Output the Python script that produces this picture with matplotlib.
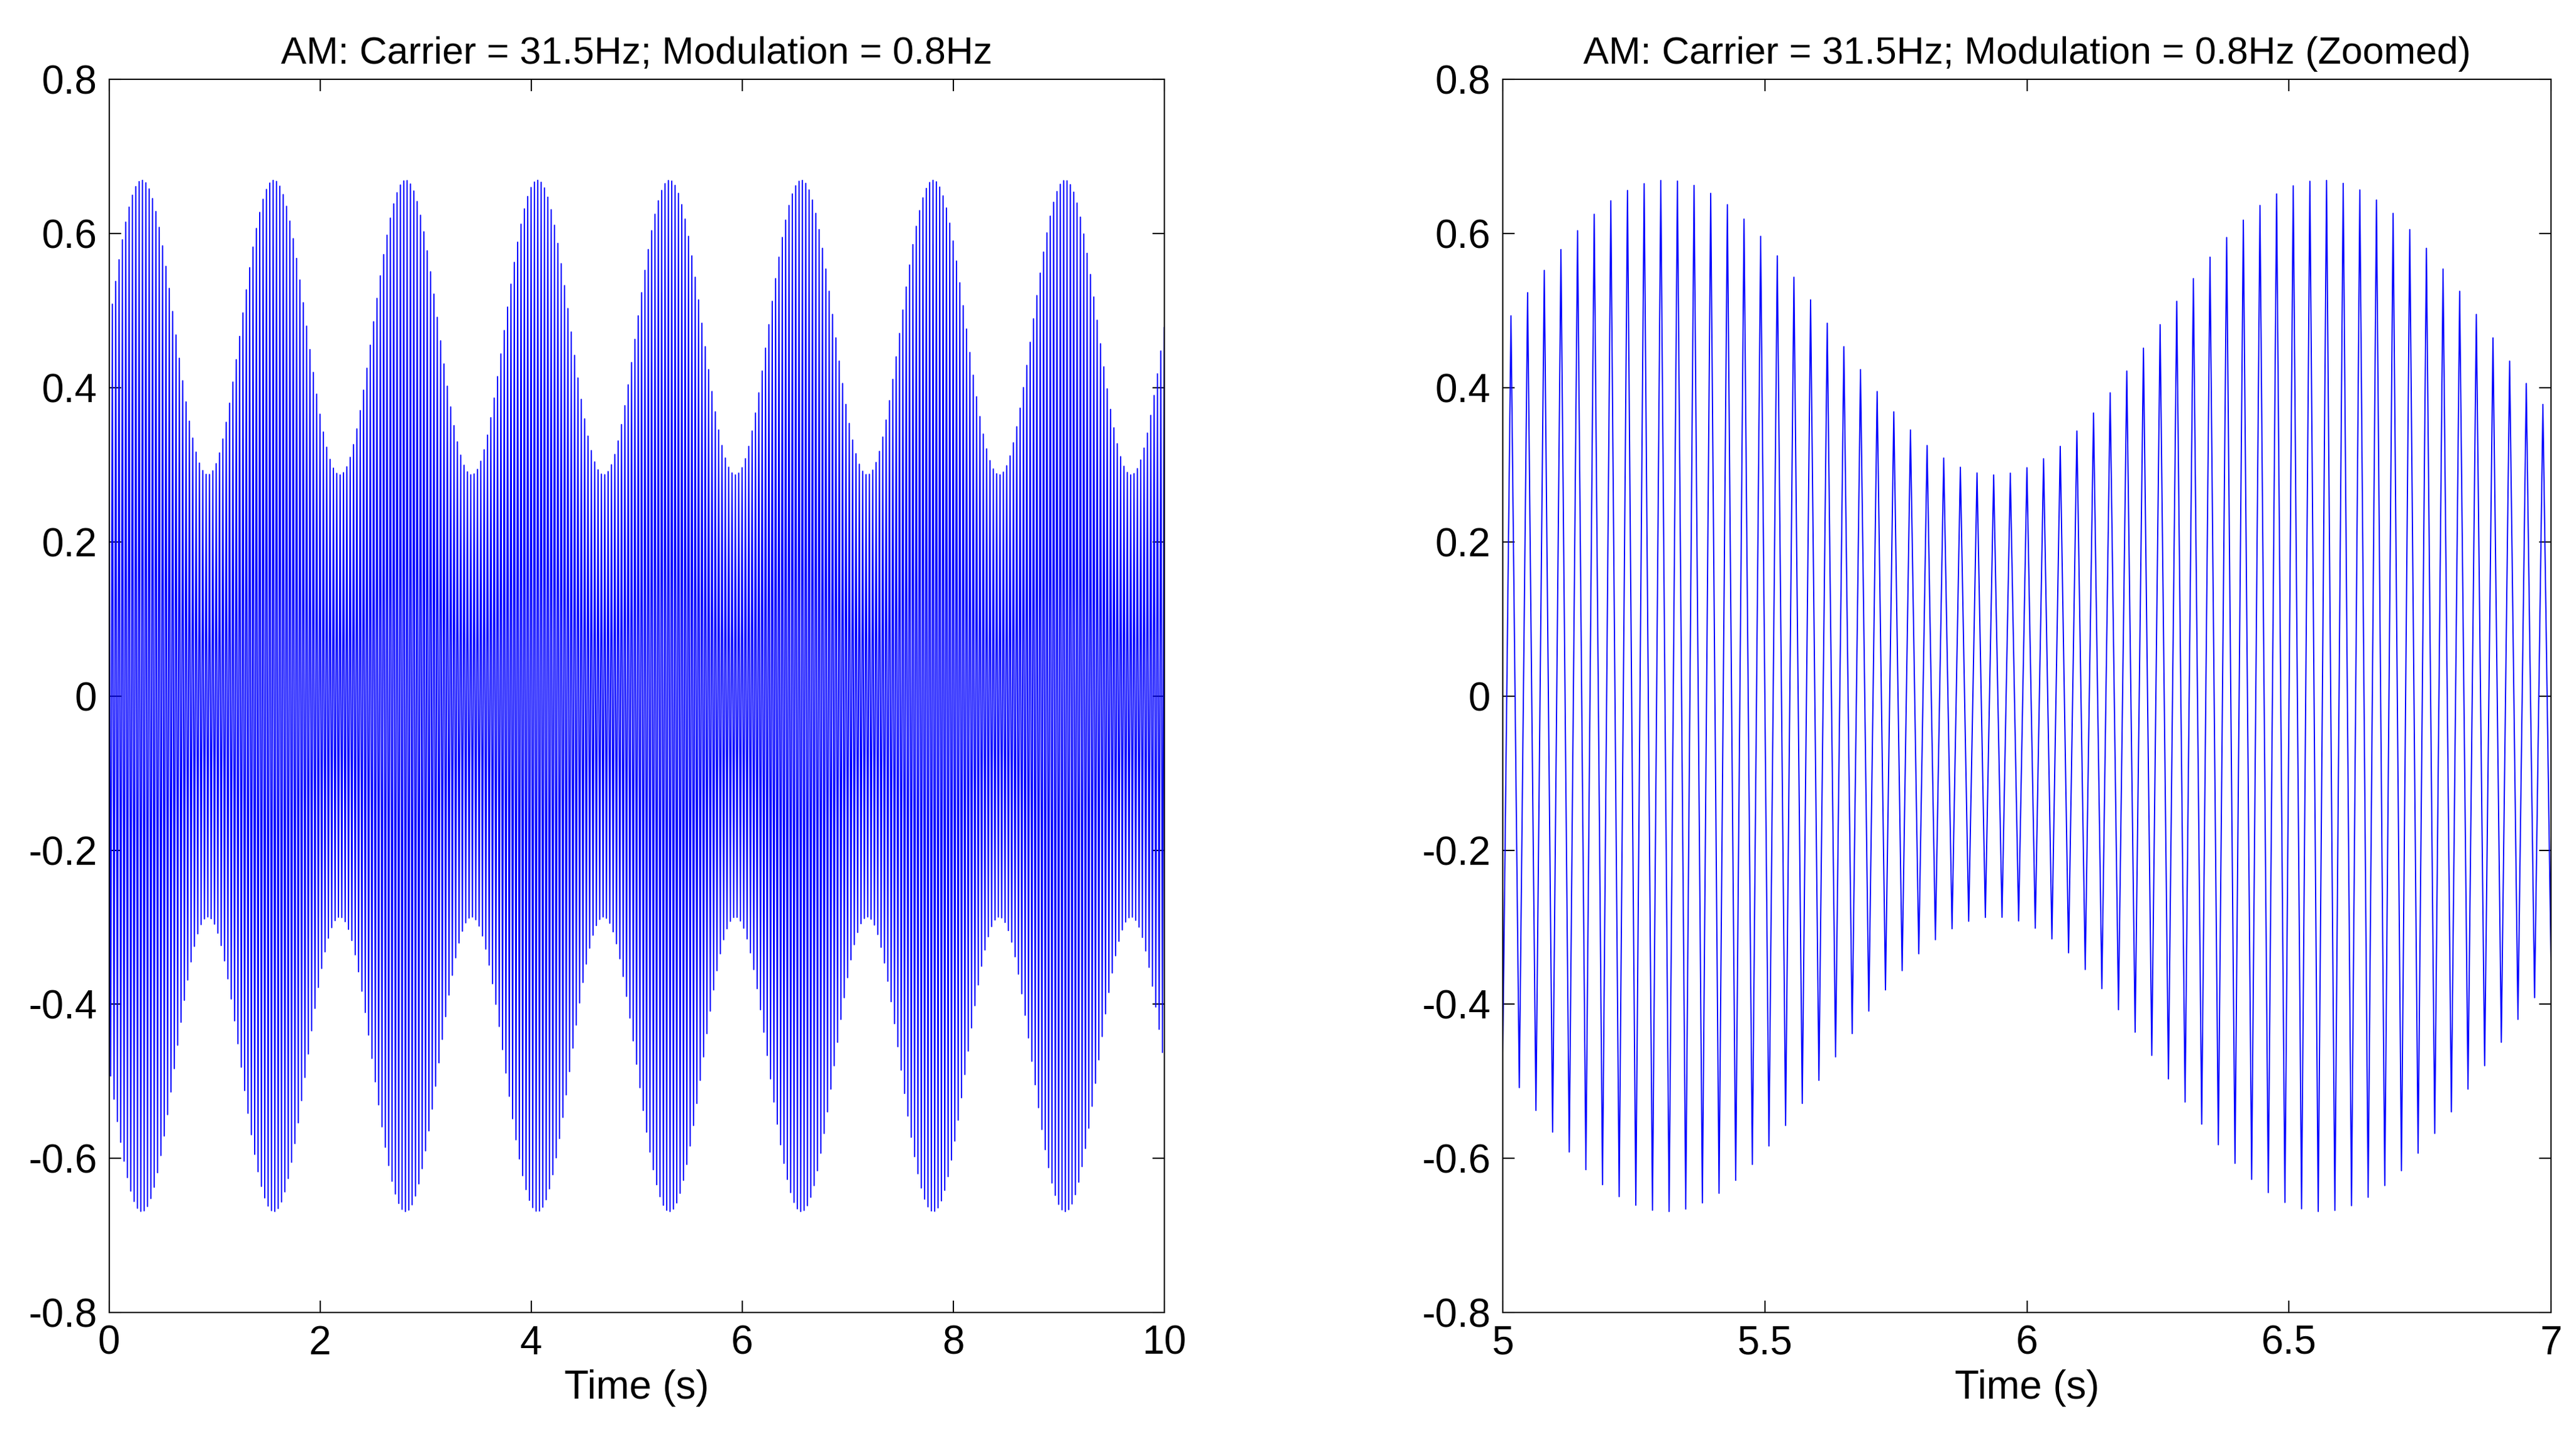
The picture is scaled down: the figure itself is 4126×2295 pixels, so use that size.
import numpy as np
import matplotlib
matplotlib.use("Agg")
import matplotlib.pyplot as plt

carrier_hz = 31.5
mod_hz = 0.8
offset = 0.5
mod_depth = 0.2
carrier_phase = 0.3
fs = 63.0
duration = 10.0

t = np.arange(0, duration + 1e-9, 1 / fs)
y = (offset + mod_depth * np.sin(2 * np.pi * mod_hz * t)) * np.cos(2 * np.pi * carrier_hz * t + carrier_phase)

plt.rcParams['font.family'] = ['Liberation Sans', 'DejaVu Sans']
fig = plt.figure(figsize=(41.26, 22.95), dpi=100)
W, H = 1560, 870
axs = [fig.add_axes([66/W, 1-797/H, (705-66)/W, (797-48)/H]),
       fig.add_axes([910/W, 1-797/H, (1545-910)/W, (797-48)/H])]
titles = ["AM: Carrier = 31.5Hz; Modulation = 0.8Hz",
          "AM: Carrier = 31.5Hz; Modulation = 0.8Hz (Zoomed)"]
xlims = [(0, 10), (5, 7)]
xticks = [np.arange(0, 11, 2), [5, 5.5, 6, 6.5, 7]]
for ax, ti, xl, xt in zip(axs, titles, xlims, xticks):
    ax.plot(t, y, color='#0000ff', lw=1.4)
    ax.set_xlim(*xl)
    ax.set_ylim(-0.8, 0.8)
    ax.set_xticks(xt)
    ax.set_xticklabels([f"{v:g}" for v in xt])
    yt = np.round(np.arange(-0.8, 0.81, 0.2), 1) + 0.0
    ax.set_yticks(yt)
    ax.set_yticklabels([f"{v + 0.0:g}" for v in yt])
    ax.tick_params(direction='in', labelsize=46, length=14, width=1.5, top=True, right=True, pad=14)
    for s in ax.spines.values():
        s.set_linewidth(1.5)
    ax.set_title(ti, fontsize=44, pad=18)
    ax.set_xlabel("Time (s)", fontsize=46, labelpad=8)
fig.savefig("out.png", dpi=100, facecolor='white')
